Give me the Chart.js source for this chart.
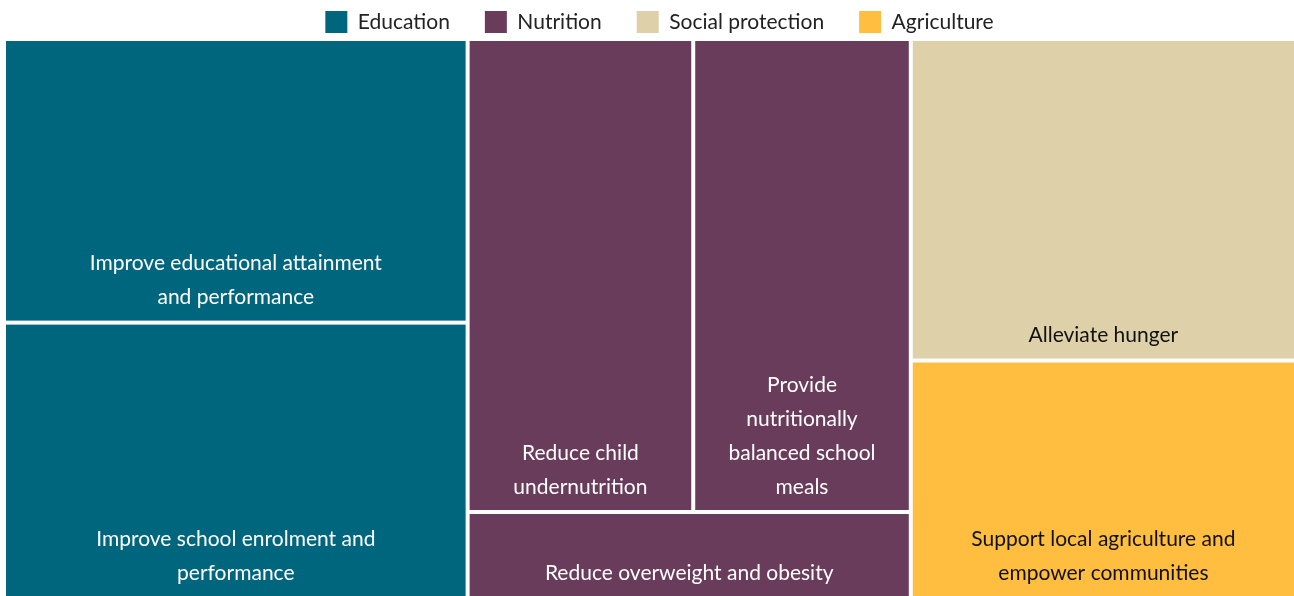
<!DOCTYPE html>
<html>
<head>
<meta charset="utf-8">
<script src="https://cdn.jsdelivr.net/npm/chart.js@4.4.0/dist/chart.umd.min.js"></script>
<style>
  html, body { margin: 0; padding: 0; overflow: hidden; background: #fff; }
  #wrap { width: 1296px; height: 598px; }
</style>
</head>
<body>
<div id="wrap"><canvas id="treemap"></canvas></div>
<script>
// legend categories
var groups = ["Education", "Nutrition", "Social protection", "Agriculture"];
var groupColors = ["#00667e", "#6a3c5c", "#ded0a9", "#ffbe40"];
var groupTextColors = ["#ffffff", "#ffffff", "#111111", "#111111"];

var educationItems = ["Improve educational attainment and performance", "Improve school enrolment and performance"];
var educationValues = [69, 67];
var nutritionItems = ["Reduce child undernutrition", "Provide nutritionally balanced school meals", "Reduce overweight and obesity"];
var nutritionValues = [56, 54, 20];
var socialItems = ["Alleviate hunger"];
var socialValues = [65];
var agricultureItems = ["Support local agriculture and empower communities"];
var agricultureValues = [48];

var groupItems = [educationItems, nutritionItems, socialItems, agricultureItems];
var groupValues = [educationValues, nutritionValues, socialValues, agricultureValues];

var SPACING = 2;      // gap around each cell, px
var RATIO = 1.15;     // target aspect for squarify
var LEGEND_SHIFT = 9.5;

function sum(arr) {
  var s = 0;
  for (var i = 0; i < arr.length; i++) s += arr[i].value;
  return s;
}

// squarified layout (same idea as d3.treemapSquarify)
function squarify(nodes, x0, y0, x1, y1) {
  var value = sum(nodes), i0 = 0, i1 = 0, n = nodes.length;
  while (i0 < n) {
    var dx = x1 - x0, dy = y1 - y0;
    var sumValue = nodes[i1++].value;
    var minValue = sumValue, maxValue = sumValue;
    var alpha = Math.max(dy / dx, dx / dy) / (value * RATIO);
    var beta = sumValue * sumValue * alpha;
    var minRatio = Math.max(maxValue / beta, beta / minValue);
    for (; i1 < n; ++i1) {
      var v = nodes[i1].value;
      sumValue += v;
      if (v < minValue) minValue = v;
      if (v > maxValue) maxValue = v;
      beta = sumValue * sumValue * alpha;
      var newRatio = Math.max(maxValue / beta, beta / minValue);
      if (newRatio > minRatio) { sumValue -= v; break; }
      minRatio = newRatio;
    }
    var row = nodes.slice(i0, i1);
    var j, p;
    if (dx < dy) {
      var yb = (value - sumValue) > 0 ? y0 + dy * sumValue / value : y1;
      p = x0;
      for (j = 0; j < row.length; j++) {
        row[j].x0 = p; p += dx * row[j].value / sumValue; row[j].x1 = p;
        row[j].y0 = y0; row[j].y1 = yb;
      }
      y0 = yb;
    } else {
      var xb = (value - sumValue) > 0 ? x0 + dx * sumValue / value : x1;
      p = y0;
      for (j = 0; j < row.length; j++) {
        row[j].y0 = p; p += dy * row[j].value / sumValue; row[j].y1 = p;
        row[j].x0 = x0; row[j].x1 = xb;
      }
      x0 = xb;
    }
    value -= sumValue;
    i0 = i1;
  }
  return nodes;
}

function wrapText(ctx, text, maxWidth) {
  var words = text.split(" "), lines = [], line = "";
  for (var i = 0; i < words.length; i++) {
    var test = line ? line + " " + words[i] : words[i];
    if (line && ctx.measureText(test).width > maxWidth) {
      lines.push(line);
      line = words[i];
    } else {
      line = test;
    }
  }
  if (line) lines.push(line);
  return lines;
}

var treemapPlugin = {
  id: "treemap",
  afterLayout: function (chart) {
    // legend sits a little right of centre in the original
    if (chart.legend) {
      chart.legend.left += LEGEND_SHIFT;
      chart.legend.right += LEGEND_SHIFT;
    }
  },
  beforeDatasetsDraw: function (chart) {
    var ctx = chart.ctx, area = chart.chartArea;
    var xs = chart.scales.x, ys = chart.scales.y;
    var W = area.right - area.left, H = area.bottom - area.top;

    var top = [];
    for (var g = 0; g < groups.length; g++) {
      if (!chart.isDatasetVisible(g)) continue;
      var kids = [];
      for (var c = 0; c < groupValues[g].length; c++) {
        kids.push({ value: groupValues[g][c], label: groupItems[g][c], group: g });
      }
      top.push({ value: sum(kids), children: kids, group: g });
    }
    if (!top.length) return;
    squarify(top, 0, 0, W, H);

    ctx.save();
    top.forEach(function (grp) {
      squarify(grp.children, grp.x0, grp.y0, grp.x1, grp.y1);
      grp.children.forEach(function (leaf) {
        var left = xs.getPixelForValue(leaf.x0 / W) + SPACING;
        var right = xs.getPixelForValue(leaf.x1 / W) - SPACING;
        var t = ys.getPixelForValue(leaf.y0 / H) + SPACING;
        var b = ys.getPixelForValue(leaf.y1 / H) - SPACING;
        ctx.fillStyle = groupColors[leaf.group];
        ctx.fillRect(left, t, right - left, b - t);

        ctx.font = "21px Lato";
        ctx.fillStyle = groupTextColors[leaf.group];
        ctx.textAlign = "center";
        ctx.textBaseline = "middle";
        var lines = wrapText(ctx, leaf.label, (right - left) * 0.705);
        var cx = (left + right) / 2;
        for (var i = 0; i < lines.length; i++) {
          var y = b - 23 - (lines.length - 1 - i) * 34;
          ctx.fillText(lines[i], cx, y);
        }
      });
    });
    ctx.restore();
  }
};

Chart.defaults.font.family = "Lato";

var datasets = groups.map(function (name, i) {
  return {
    label: name,
    data: [],
    backgroundColor: groupColors[i],
    borderColor: groupColors[i],
    borderWidth: 0
  };
});

new Chart(document.getElementById("treemap"), {
  type: "scatter",
  data: { datasets: datasets },
  options: {
    responsive: true,
    maintainAspectRatio: false,
    animation: false,
    layout: { padding: { top: -24, left: 4, right: 0, bottom: 0 } },
    scales: {
      x: { type: "linear", min: 0, max: 1, display: false },
      y: { type: "linear", min: 0, max: 1, reverse: true, display: false }
    },
    plugins: {
      legend: {
        position: "top",
        maxHeight: 63,
        labels: {
          boxWidth: 22,
          boxHeight: 22,
          padding: 35,
          color: "#222222",
          font: { size: 21, family: "Lato" }
        }
      },
      tooltip: { enabled: false }
    }
  },
  plugins: [treemapPlugin]
});
</script>
</body>
</html>
